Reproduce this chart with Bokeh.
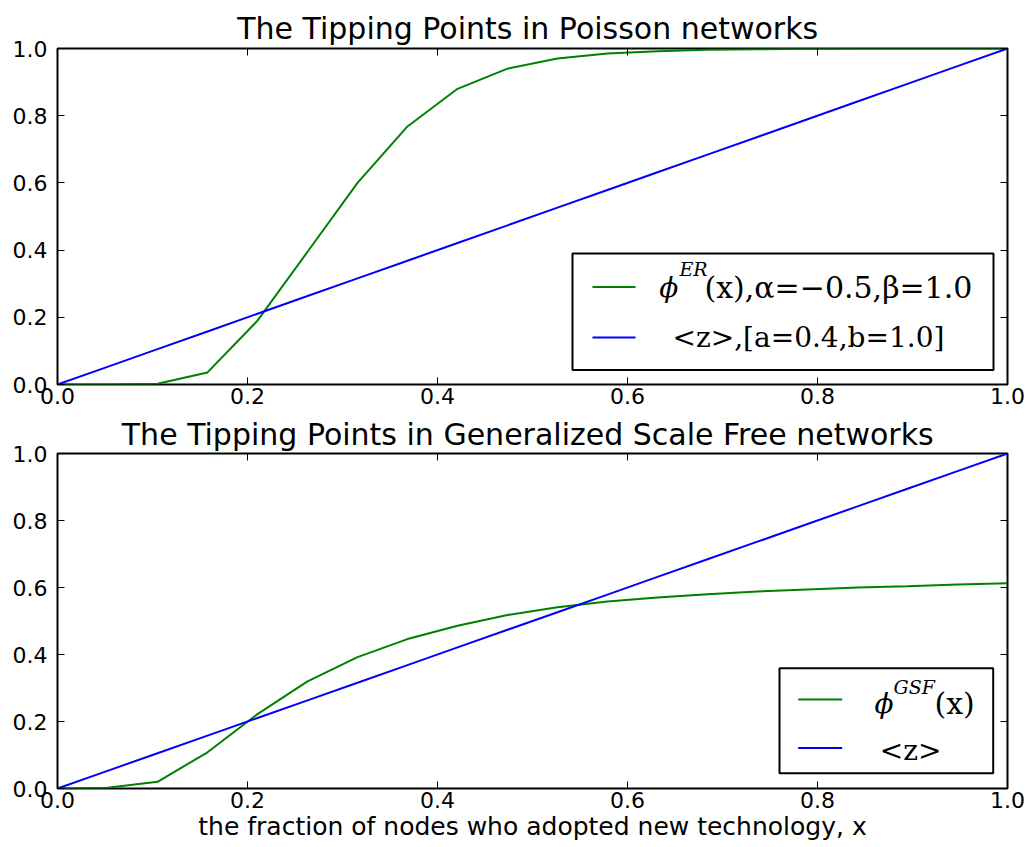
from bokeh.plotting import figure
from bokeh.layouts import column
from bokeh.models import (LinearAxis, BoxAnnotation, Arrow, Label, Range1d, FixedTicker)
from bokeh.embed import file_html
from bokeh.resources import INLINE

# ---------------- data ----------------
x_vals = [0.0, 0.0526, 0.1053, 0.1579, 0.2105, 0.2632, 0.3158, 0.3684, 0.4211, 0.4737,
          0.5263, 0.5789, 0.6316, 0.6842, 0.7368, 0.7895, 0.8421, 0.8947, 0.9474, 1.0]

phi_er = [0.0, 0.0, 0.002, 0.036, 0.19, 0.395, 0.60, 0.768, 0.88, 0.94,
          0.97, 0.985, 0.992, 0.996, 0.998, 0.999, 1.0, 1.0, 1.0, 1.0]

phi_gsf = [0.0, 0.002, 0.02, 0.108, 0.222, 0.32, 0.392, 0.446, 0.486, 0.518,
           0.541, 0.558, 0.570, 0.580, 0.588, 0.594, 0.600, 0.604, 0.609, 0.613]

z_line = [0.0, 0.0526, 0.1053, 0.1579, 0.2105, 0.2632, 0.3158, 0.3684, 0.4211, 0.4737,
          0.5263, 0.5789, 0.6316, 0.6842, 0.7368, 0.7895, 0.8421, 0.8947, 0.9474, 1.0]

tick_values = [0.0, 0.2, 0.4, 0.6, 0.8, 1.0]
tick_labels = ["0.0", "0.2", "0.4", "0.6", "0.8", "1.0"]

title_top = "The Tipping Points in Poisson  networks"
title_bottom = "The  Tipping Points in Generalized Scale Free networks"
x_label = "the fraction of nodes who adopted new technology, x"

GREEN = "#008000"
BLUE = "#0000ff"

FONT = "DejaVu Sans"
MATH_FONT = "DejaVu Serif"

# frame geometry (pixels) used only to place the legend annotations
FX0, FX1 = 57.0, 1007.0


def make_panel(title, height, b_top, b_bottom, title_standoff):
    p = figure(width=1027, height=height,
               x_range=Range1d(0, 1), y_range=Range1d(0, 1),
               output_backend="svg", toolbar_location=None,
               min_border_left=57, min_border_right=20,
               min_border_top=b_top, min_border_bottom=b_bottom)
    p.title.text = title
    p.title.align = "center"
    p.title.text_font = FONT
    p.title.text_font_size = "30px"
    p.title.text_font_style = "normal"
    p.title.text_color = "black"
    p.title.standoff = title_standoff

    p.xgrid.grid_line_color = None
    p.ygrid.grid_line_color = None
    p.outline_line_color = "black"
    p.outline_line_width = 2
    p.outline_line_alpha = 1.0
    p.background_fill_color = "white"
    p.border_fill_color = "white"

    p.add_layout(LinearAxis(), "above")
    p.add_layout(LinearAxis(), "right")

    overrides = {v: s for v, s in zip(tick_values, tick_labels)}
    for ax in p.below + p.left + p.above + p.right:
        ax.ticker = FixedTicker(ticks=tick_values)
        ax.major_label_overrides = overrides
        ax.axis_line_color = None
        ax.major_tick_in = 7
        ax.major_tick_out = 0
        ax.major_tick_line_color = "black"
        ax.major_tick_line_width = 1
        ax.minor_tick_line_color = None
        ax.major_label_text_font = FONT
        ax.major_label_text_font_size = "22px"
        ax.major_label_text_color = "black"
    # tick-only axes on top and right (labels not drawn)
    for ax in (p.above[0], p.right[0]):
        ax.major_label_text_color = None
        ax.major_label_text_font_size = "1px"
        ax.major_label_standoff = 0
    p.below[0].major_label_standoff = 3
    p.left[0].major_label_standoff = 10
    return p


def add_legend(p, fy, box, rows):
    fx = lambda px: (px - FX0) / (FX1 - FX0)
    left, right, top, bottom = box
    p.add_layout(BoxAnnotation(left=fx(left), right=fx(right), top=fy(top), bottom=fy(bottom),
                               fill_color="white", fill_alpha=1.0,
                               line_color="black", line_width=2, line_alpha=1.0))
    for color, (sx0, sx1, sy), texts in rows:
        p.add_layout(Arrow(end=None, x_start=fx(sx0), x_end=fx(sx1),
                           y_start=fy(sy), y_end=fy(sy),
                           line_color=color, line_width=2))
        for (txt, tx, ty, size, style, align) in texts:
            p.add_layout(Label(x=fx(tx), y=fy(ty), text=txt,
                               text_font=MATH_FONT, text_font_size=size,
                               text_font_style=style, text_color="black",
                               text_align=align, text_baseline="middle"))


# ---------------- top panel ----------------
p1 = make_panel(title_top, 413, 48, 29, 5)
p1.line(x_vals, phi_er, line_color=GREEN, line_width=2)
p1.line(x_vals, z_line, line_color=BLUE, line_width=2)

fy1 = lambda py: (384.3 - py) / 336.0
add_legend(p1, fy1, (572, 993, 253.3, 369.8), [
    (GREEN, (592, 635, 286.7), [
        ("\u03d5", 668.3, 287.5, "28px", "italic", "center"),
        ("ER", 679, 269, "19px", "italic", "left"),
        ("(x),\u03b1=\u22120.5,\u03b2=1.0", 704, 287.5, "30px", "normal", "left"),
    ]),
    (BLUE, (592, 635, 337.3), [
        ("<z>,[a=0.4,b=1.0]", 672, 337, "28px", "normal", "left"),
    ]),
])

# ---------------- bottom panel ----------------
p2 = make_panel(title_bottom, 434, 40, 59, 3)
p2.line(x_vals, phi_gsf, line_color=GREEN, line_width=2)
p2.line(x_vals, z_line, line_color=BLUE, line_width=2)
xa = p2.below[0]
xa.axis_label = x_label
xa.axis_label_text_font = FONT
xa.axis_label_text_font_size = "25px"
xa.axis_label_text_font_style = "normal"
xa.axis_label_text_color = "black"
xa.axis_label_standoff = 1

fy2 = lambda py: (788.3 - py) / 335.0
add_legend(p2, fy2, (779, 992.7, 668, 773), [
    (GREEN, (797.7, 841.7, 699.3), [
        ("\u03d5", 883.5, 703, "28px", "italic", "center"),
        ("GSF", 893, 687, "19px", "italic", "left"),
        ("(x)", 934, 703, "30px", "normal", "left"),
    ]),
    (BLUE, (797.7, 841.7, 747.7), [
        ("<z>", 879.3, 750, "28px", "normal", "left"),
    ]),
])

layout = column(p1, p2)
open("out.html", "w").write(file_html(layout, INLINE))
